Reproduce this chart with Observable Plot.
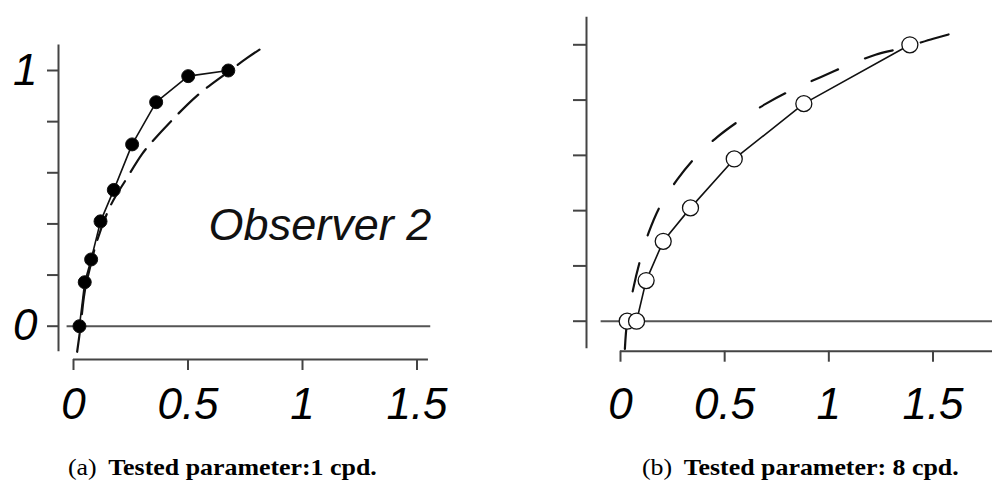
<!DOCTYPE html>
<html><head><meta charset="utf-8">
<script src="https://cdn.jsdelivr.net/npm/d3@7"></script>
<script src="https://cdn.jsdelivr.net/npm/@observablehq/plot@0.6"></script>
<style>
html,body{margin:0;padding:0;background:#fff;}
#root{position:relative;width:992px;height:480px;overflow:hidden;background:#fff;}
.panel{position:absolute;top:0;}
.cap{position:absolute;top:457px;font-family:"Liberation Serif","Times New Roman",serif;font-size:22.5px;line-height:22.5px;white-space:nowrap;transform-origin:0 0;transform:scaleX(1.15);color:#000;}
.cap .lab{font-weight:normal;margin-right:10px;}
.cap b{font-weight:bold;}
</style></head><body><div id="root"></div>
<script>
// ---- data ----
// Panel (a): 1 cpd, measured points (filled dots)
const obs1X = [0.026, 0.049, 0.077, 0.118, 0.176, 0.256, 0.361, 0.501, 0.676];
const obs1Y = [0.000, 0.172, 0.261, 0.410, 0.533, 0.711, 0.876, 0.978, 1.000];
// Panel (a): dashed fitted curve
const fit1X = [0.016, 0.031, 0.048, 0.075, 0.103, 0.162, 0.231, 0.300, 0.344, 0.424, 0.540, 0.664, 0.760, 0.843];
const fit1Y = [-0.10, 0.000, 0.130, 0.240, 0.335, 0.472, 0.576, 0.674, 0.722, 0.800, 0.902, 0.987, 1.050, 1.100];
// Panel (b): 8 cpd, measured points (open dots)
const obs8X = [0.032, 0.077, 0.123, 0.205, 0.336, 0.546, 0.880, 1.389];
const obs8Y = [0.000, 0.000, 0.147, 0.289, 0.410, 0.587, 0.787, 1.000];
// Panel (b): dashed fitted curve
const fit8X = [0.021, 0.032, 0.061, 0.093, 0.136, 0.192, 0.272, 0.360, 0.464, 0.579, 0.699, 0.824, 0.960, 1.088, 1.224, 1.352, 1.501, 1.632];
const fit8Y = [-0.10, 0.000, 0.117, 0.217, 0.322, 0.419, 0.512, 0.593, 0.666, 0.730, 0.787, 0.837, 0.883, 0.925, 0.964, 0.988, 1.022, 1.049];
// ticks and labels
const xTicks = [0, 0.5, 1, 1.5];
const yTicks = [0, 0.2, 0.4, 0.6, 0.8, 1];
const yLabeled = [0, 1];
const observerLabel = "Observer 2";
const captionTags = ["(a)", "(b)"];
const captionTexts = ["Tested parameter:1 cpd.", "Tested parameter: 8 cpd."];

// ---- layout ----
const FONT = "'Liberation Sans', Arial, Helvetica, sans-serif";
const toRows = (xs, ys) => xs.map((x, i) => ({x, y: ys[i]}));

function panel(cfg) {
  const pts = toRows(cfg.px, cfg.py);
  const fit = toRows(cfg.fx, cfg.fy);
  const marks = [
    Plot.ruleY([0], {x1: cfg.zero[0], x2: cfg.zero[1], stroke: "#555", strokeWidth: 2}),
    Plot.ruleX([0], {y1: -0.1, y2: 1.1, dx: cfg.yDx, stroke: "#444", strokeWidth: 2}),
    Plot.ruleY([cfg.xAxisAt], {x1: 0, x2: cfg.xAxisEnd, stroke: "#444", strokeWidth: 2}),
    Plot.axisY({ticks: yTicks, tickSize: cfg.yTick, dx: cfg.yDx, tickPadding: 10,
      tickFormat: d => (cfg.yLabels && yLabeled.includes(d)) ? String(d) : "",
      label: null, stroke: "#444", strokeWidth: 2, fill: "#000",
      fontSize: 44, fontStyle: "italic", fontFamily: FONT}),
    Plot.axisX({ticks: xTicks, tickSize: 11, dy: cfg.xDy, tickPadding: cfg.xPad,
      tickFormat: d => String(d), label: null, stroke: "#444", strokeWidth: 2, fill: "#000",
      fontSize: 44, fontStyle: "italic", fontFamily: FONT}),
    Plot.line(fit, {x: "x", y: "y", curve: "catmull-rom", stroke: "#111", strokeWidth: 2.2, strokeDasharray: cfg.dash}),
    Plot.line(pts, {x: "x", y: "y", stroke: "#111", strokeWidth: 1.6}),
    Plot.dot(pts, {x: "x", y: "y", r: cfg.r, fill: cfg.dotFill, stroke: "#111", strokeWidth: cfg.dotStroke})
  ];
  if (cfg.label) {
    marks.push(Plot.text([cfg.label], {x: () => 0.59, y: () => 0.394, text: d => d,
      textAnchor: "start", lineAnchor: "middle", fontSize: 45, fontStyle: "italic", fontFamily: FONT, fill: "#111"}));
  }
  return Plot.plot({
    width: 496, height: 440,
    marginLeft: cfg.ml, marginRight: cfg.mr, marginTop: cfg.mt, marginBottom: cfg.mb,
    x: {domain: [0, 1.5]}, y: {domain: [0, 1]},
    style: {fontFamily: FONT, background: "transparent", overflow: "visible", color: "#444"},
    marks
  });
}

const root = document.getElementById("root");
const left = panel({
  px: obs1X, py: obs1Y, fx: fit1X, fy: fit1Y,
  ml: 73, mr: 79.5, mt: 70, mb: 114.3,
  zero: [-0.028, 1.56], yDx: -15, yTick: 11, yLabels: true,
  xAxisAt: -0.13, xAxisEnd: 1.55, xDy: 33.3, xPad: 17,
  dash: "27,11", r: 6.5, dotFill: "#000", dotStroke: 1, label: observerLabel
});
const right = panel({
  px: obs8X, py: obs8Y, fx: fit8X, fy: fit8Y,
  ml: 124, mr: 59.5, mt: 44.3, mb: 119.3,
  zero: [-0.093, 1.786], yDx: -34, yTick: 13, yLabels: false,
  xAxisAt: -0.1085, xAxisEnd: 1.786, xDy: 30, xPad: 25.5,
  dash: "29,29", r: 8, dotFill: "#fff", dotStroke: 1.3, label: null
});
left.classList.add("panel"); left.style.left = "0px";
right.classList.add("panel"); right.style.left = "496px";
root.appendChild(left); root.appendChild(right);

[68, 642].forEach((lx, i) => {
  const c = document.createElement("div");
  c.className = "cap";
  c.style.left = lx + "px";
  const s = document.createElement("span"); s.className = "lab"; s.textContent = captionTags[i];
  const b = document.createElement("b"); b.textContent = captionTexts[i];
  c.appendChild(s); c.appendChild(b);
  root.appendChild(c);
});
</script></body></html>
